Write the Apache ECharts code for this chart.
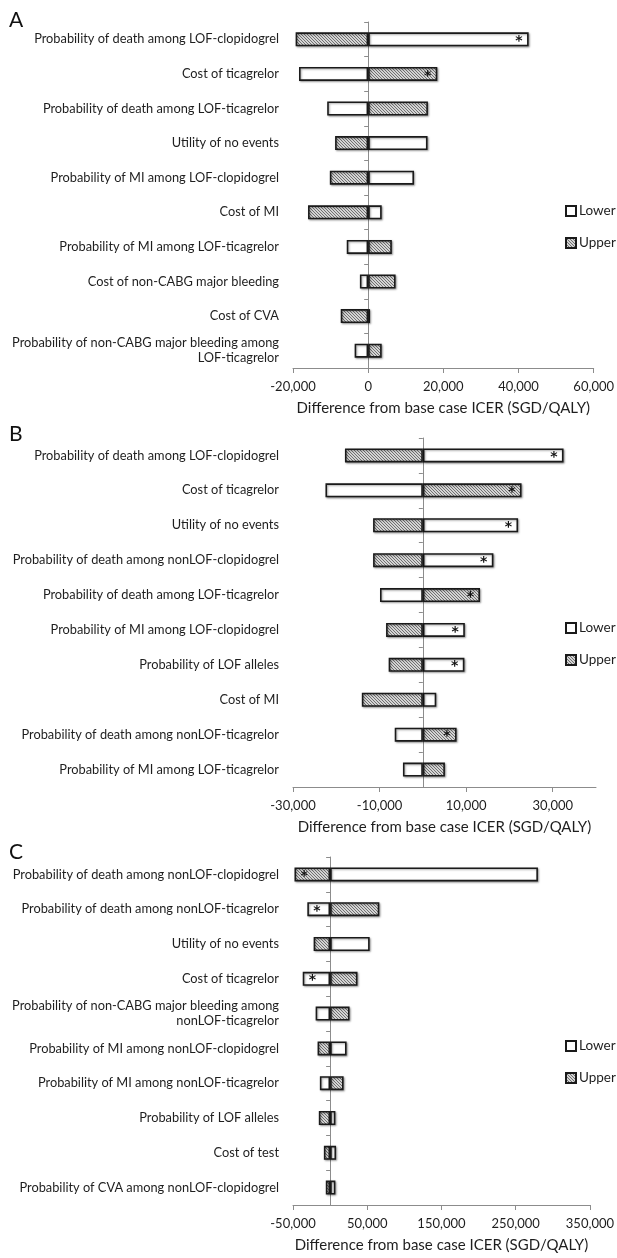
<!DOCTYPE html>
<html>
<head>
<meta charset="utf-8">
<script src="https://cdn.jsdelivr.net/npm/echarts@6/dist/echarts.min.js"></script>
<style>html,body{margin:0;padding:0;background:#fff}#c{width:617px;height:1258px}</style>
</head>
<body>
<div id="c"></div>
<script>
// ---------- Panel A ----------
var catsA = ['Probability of death among LOF-clopidogrel','Cost of ticagrelor','Probability of death among LOF-ticagrelor','Utility of no events','Probability of MI among LOF-clopidogrel','Cost of MI','Probability of MI among LOF-ticagrelor','Cost of non-CABG major bleeding','Cost of CVA','Probability of non-CABG major bleeding among\nLOF-ticagrelor'];
var lowerA = [42700,-18400,-10900,15800,12200,3600,-5700,-2200,500,-3600];
var upperA = [-19300,18400,15900,-8800,-10200,-16000,6300,7300,-7300,3600];
var starLowerA = [1,0,0,0,0,0,0,0,0,0];
var starUpperA = [0,1,0,0,0,0,0,0,0,0];
var ticksA = {min:-20000,max:60000,interval:20000};
// ---------- Panel B ----------
var catsB = ['Probability of death among LOF-clopidogrel','Cost of ticagrelor','Utility of no events','Probability of death among nonLOF-clopidogrel','Probability of death among LOF-ticagrelor','Probability of MI among LOF-clopidogrel','Probability of LOF alleles','Cost of MI','Probability of death among nonLOF-ticagrelor','Probability of MI among LOF-ticagrelor'];
var lowerB = [32500,-22500,22000,16300,-9900,9700,9600,3100,-6500,-4600];
var upperB = [-18000,22800,-11500,-11500,13200,-8500,-7900,-14100,7800,5100];
var starLowerB = [1,0,1,1,0,1,1,0,0,0];
var starUpperB = [0,1,0,0,1,0,0,0,1,0];
var ticksB = {min:-30000,max:40000,interval:20000};
// ---------- Panel C ----------
var catsC = ['Probability of death among nonLOF-clopidogrel','Probability of death among nonLOF-ticagrelor','Utility of no events','Cost of ticagrelor','Probability of non-CABG major bleeding among\nnonLOF-ticagrelor','Probability of MI among nonLOF-clopidogrel','Probability of MI among nonLOF-ticagrelor','Probability of LOF alleles','Cost of test','Probability of CVA among nonLOF-clopidogrel'];
var lowerC = [280000,-30700,53300,-36900,-19500,22200,-13800,7100,8000,7100];
var upperC = [-48000,66300,-22200,36900,26200,-16900,18200,-15200,-8400,-5800];
var starLowerC = [0,1,0,1,0,0,0,0,0,0];
var starUpperC = [1,0,0,0,0,0,0,0,0,0];
var ticksC = {min:-50000,max:350000,interval:100000};

var axisName = 'Difference from base case ICER (SGD/QALY)';
var FONT = 'Lato';

// hatch pattern
var pc = document.createElement('canvas');
pc.width = 3; pc.height = 3;
var g = pc.getContext('2d');
g.fillStyle = '#d4d4d4'; g.fillRect(0,0,3,3);
g.fillStyle = '#707070';
g.fillRect(0,0,1,1); g.fillRect(1,1,1,1); g.fillRect(2,2,1,1);
var hatch = {image: pc, repeat: 'repeat'};

var panels = [
  {cats:catsA, lower:lowerA, upper:upperA, sl:starLowerA, su:starUpperA, t:ticksA, top:22, h:346, left:293, right:21, legTop:204},
  {cats:catsB, lower:lowerB, upper:upperB, sl:starLowerB, su:starUpperB, t:ticksB, top:438, h:349, left:293, right:21, legTop:621},
  {cats:catsC, lower:lowerC, upper:upperC, sl:starLowerC, su:starUpperC, t:ticksC, top:857, h:348, left:293, right:24, legTop:1039}
];

function fmt(v){ return v.toLocaleString('en-US'); }

var grids=[], xAxes=[], yAxes=[], series=[], legends=[];
var barStyleBase = {borderColor:'#1a1a1a', borderWidth:1.6, shadowColor:'rgba(0,0,0,0.35)', shadowBlur:2, shadowOffsetX:1, shadowOffsetY:1};

function mk(vals, stars){
  return vals.map(function(v,i){
    var d = {value:v};
    if (stars[i]) {
      d.label = {show:true, formatter:'*', position: v>=0 ? 'insideRight' : 'insideLeft', distance:6,
        color:'#111', fontSize:14, fontWeight:'bold', fontFamily:'DejaVu Sans', offset:[0,2]};
    }
    return d;
  });
}

panels.forEach(function(p, k){
  grids.push({left:p.left, right:p.right, top:p.top, height:p.h, containLabel:false});
  xAxes.push({type:'value', gridIndex:k, min:p.t.min, max:p.t.max, interval:p.t.interval,
    splitLine:{show:false},
    axisLine:{show:true, lineStyle:{color:'#8c8c8c', width:1}},
    axisTick:{show:true, length:5, lineStyle:{color:'#8c8c8c'}},
    axisLabel:{formatter:fmt, color:'#1e1e1e', fontSize:13, fontFamily:FONT, margin:12, showMaxLabel: k!==1},
    name:axisName, nameLocation:'middle', nameGap:33,
    nameTextStyle:{color:'#1e1e1e', fontSize:15, fontFamily:FONT}
  });
  yAxes.push({type:'category', gridIndex:k, data:p.cats, inverse:true,
    axisLine:{show:true, onZero:true, lineStyle:{color:'#8c8c8c', width:1}},
    axisTick:{show:true, length:4, lineStyle:{color:'#8c8c8c'}},
    axisLabel:{color:'#1e1e1e', fontSize:12.8, fontFamily:FONT, margin:14, lineHeight:15, align:'right'}
  });
  series.push({name:'Lower', type:'bar', xAxisIndex:k, yAxisIndex:k, barWidth:14, barGap:'-100%',
    itemStyle:Object.assign({color:'#ffffff'}, barStyleBase),
    data:mk(p.lower, p.sl)});
  series.push({name:'Upper', type:'bar', xAxisIndex:k, yAxisIndex:k, barWidth:14, barGap:'-100%',
    itemStyle:Object.assign({color:hatch}, barStyleBase),
    data:mk(p.upper, p.su)});
  legends.push({data:['Lower','Upper'], orient:'vertical', left:565, top:p.legTop, padding:0, itemWidth:10, itemHeight:10,
    itemGap:18, icon:'rect', textStyle:{fontSize:13.5, color:'#1e1e1e', fontFamily:FONT, padding:[0,0,0,-2]},
    selectedMode:false});
});

var chart = echarts.init(document.getElementById('c'), null, {renderer:'canvas'});
chart.setOption({
  animation:false,
  backgroundColor:'#fff',
  textStyle:{fontFamily:FONT},
  grid:grids, xAxis:xAxes, yAxis:yAxes, series:series, legend:legends,
  graphic:[
    {type:'text', left:9, top:10, style:{text:'A', fontSize:21, fontFamily:FONT, fill:'#111'}},
    {type:'text', left:9, top:424, style:{text:'B', fontSize:21, fontFamily:FONT, fill:'#111'}},
    {type:'text', left:9, top:842, style:{text:'C', fontSize:21, fontFamily:FONT, fill:'#111'}}
  ]
});
</script>
</body>
</html>
